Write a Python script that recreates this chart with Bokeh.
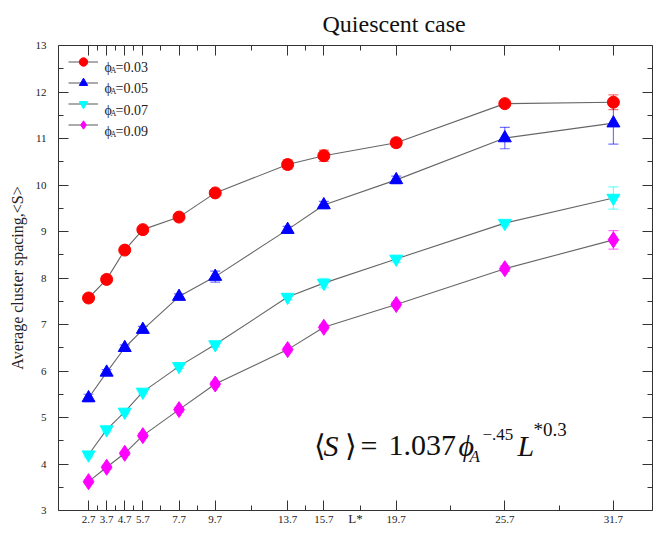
from bokeh.plotting import figure
from bokeh.models import (ColumnDataSource, Whisker, TeeHead, FixedTicker, LinearAxis,
                          Label, Legend, LegendItem, Range1d)
from bokeh.embed import file_html
from bokeh.resources import INLINE

# ---------------- data ----------------
L_star = [2.7, 3.7, 4.7, 5.7, 7.7, 9.7, 13.7, 15.7, 19.7, 25.7, 31.7]
x_minor = [3.2, 4.2, 5.2, 6.7, 8.7, 11.7, 14.7, 17.7, 22.7, 28.7]
y_ticks = [3, 4, 5, 6, 7, 8, 9, 10, 11, 12, 13]

phi_labels = ["=0.03", "=0.05", "=0.07", "=0.09"]

s_003 = [7.57, 7.97, 8.60, 9.04, 9.31, 9.83, 10.44, 10.63, 10.91, 11.75, 11.78]
e_003 = [0.05, 0.05, 0.05, 0.06, 0.07, 0.05, 0.10, 0.12, 0.09, 0.05, 0.16]
s_005 = [5.42, 5.97, 6.50, 6.89, 7.60, 8.03, 9.04, 9.57, 10.11, 11.01, 11.33]
e_005 = [0.08, 0.06, 0.06, 0.07, 0.06, 0.12, 0.07, 0.08, 0.08, 0.23, 0.45]
s_007 = [4.20, 4.74, 5.12, 5.55, 6.10, 6.57, 7.59, 7.89, 8.41, 9.18, 9.72]
e_007 = [0.05, 0.05, 0.05, 0.05, 0.05, 0.05, 0.06, 0.10, 0.07, 0.06, 0.24]
s_009 = [3.62, 3.93, 4.23, 4.61, 5.17, 5.72, 6.46, 6.94, 7.43, 8.20, 8.82]
e_009 = [0.04, 0.04, 0.04, 0.05, 0.05, 0.05, 0.05, 0.05, 0.05, 0.06, 0.20]

series = [
    (s_003, e_003, "circle", "#ff0000", 12),
    (s_005, e_005, "triangle", "#0000ff", 13),
    (s_007, e_007, "inverted_triangle", "#00ffff", 13),
    (s_009, e_009, "diamond", "#ff00ff", 16),
]

SERIF = "Liberation Serif"

p = figure(width=653, height=528, output_backend="svg", toolbar_location=None,
           x_range=Range1d(1.04, 33.86), y_range=Range1d(3, 13),
           min_border_left=58, min_border_right=1, min_border_top=45, min_border_bottom=18,
           x_axis_location=None, y_axis_location=None)
p.xgrid.visible = False
p.ygrid.visible = False
p.outline_line_color = None
p.background_fill_color = "white"
p.border_fill_color = "white"

def style_axis(ax, ticker, labels=True):
    ax.ticker = ticker
    ax.axis_line_color = "#333333"
    ax.major_tick_line_color = "#333333"
    ax.minor_tick_line_color = "#333333"
    ax.major_tick_in = 10
    ax.major_tick_out = 0
    ax.minor_tick_in = 5
    ax.minor_tick_out = 0
    ax.major_label_text_font = SERIF
    ax.major_label_text_font_size = "11px"
    ax.major_label_text_color = "#222222"
    if not labels:
        ax.major_label_text_font_size = "1px"
        ax.major_label_text_color = None
        ax.major_label_text_alpha = 0
        ax.major_label_standoff = 0

xt = FixedTicker(ticks=L_star, minor_ticks=x_minor)
yt = FixedTicker(ticks=y_ticks, minor_ticks=[v + 0.5 for v in y_ticks[:-1]])

xb = LinearAxis(axis_label="L*", axis_label_text_font=SERIF,
                axis_label_text_font_size="13px", axis_label_text_font_style="normal",
                axis_label_standoff=-15, axis_label_text_color="#222222")
style_axis(xb, xt)
xb.major_label_standoff = 5
p.add_layout(xb, "below")

yl = LinearAxis(axis_label="Average cluster spacing,<S>", axis_label_text_font=SERIF,
                axis_label_text_font_size="16px", axis_label_text_font_style="normal",
                axis_label_standoff=7, axis_label_text_color="#222222")
style_axis(yl, yt)
yl.major_label_standoff = 12
p.add_layout(yl, "left")

xtop = LinearAxis()
style_axis(xtop, xt, labels=False)
p.add_layout(xtop, "above")
yr = LinearAxis()
style_axis(yr, yt, labels=False)
p.add_layout(yr, "right")

p.title.text = "Quiescent case"
p.title.text_font = SERIF
p.title.text_font_size = "24px"
p.title.text_font_style = "normal"
p.title.align = "left"
p.title.offset = 264
p.title.standoff = 17
p.title.text_color = "#111111"

items = []
for ys, es, marker, color, size in series:
    src = ColumnDataSource(dict(x=L_star, y=ys,
                                upper=[a + b for a, b in zip(ys, es)],
                                lower=[a - b for a, b in zip(ys, es)]))
    ln = p.line("x", "y", source=src, line_color="#666666", line_width=1.1)
    w = Whisker(base="x", upper="upper", lower="lower", source=src,
                line_color=color, line_alpha=0.55, line_width=1.2,
                upper_head=TeeHead(size=10, line_color=color, line_alpha=0.55, line_width=1.2),
                lower_head=TeeHead(size=10, line_color=color, line_alpha=0.55, line_width=1.2))
    p.add_layout(w)
    sc = p.scatter("x", "y", source=src, marker=marker, size=size,
                   fill_color=color, line_color=color)
    items.append(LegendItem(label=" ", renderers=[ln, sc]))

legend = Legend(items=items, location=(10, 375), orientation="vertical",
                glyph_width=30, glyph_height=21, label_height=21, spacing=0,
                padding=0, margin=0, border_line_color=None,
                background_fill_alpha=0, label_text_font_size="1px",
                label_text_color=None, label_text_alpha=0, label_standoff=0)
p.add_layout(legend, "center")

# legend texts (frame-relative screen coordinates)
for i, txt in enumerate(phi_labels):
    base = 443 - i * 21.3
    p.add_layout(Label(x=46, y=base, x_units="screen", y_units="screen", text="ϕ",
                       text_font=SERIF, text_font_size="14px", text_baseline="alphabetic",
                       text_color="#222222"))
    p.add_layout(Label(x=52, y=base - 3, x_units="screen", y_units="screen", text="A",
                       text_font=SERIF, text_font_size="8px", text_baseline="alphabetic",
                       text_color="#222222"))
    p.add_layout(Label(x=57, y=base, x_units="screen", y_units="screen", text=txt,
                       text_font=SERIF, text_font_size="14px", text_baseline="alphabetic",
                       text_color="#222222"))

# formula
FML = SERIF
def flabel(x, y, t, size, style="normal"):
    p.add_layout(Label(x=x, y=y, x_units="screen", y_units="screen", text=t,
                       text_font=FML, text_font_size=size, text_font_style=style,
                       text_baseline="alphabetic", text_color="#111111"))

flabel(255, 65, "⟨", "30px")
flabel(265, 65, "S", "30px", "italic")
flabel(286, 65, "⟩", "30px")
flabel(302, 65, "=", "30px")
flabel(330, 65, "1.037", "30px")
flabel(400, 65, "ϕ", "30px", "italic")
flabel(411, 54, "A", "17px", "italic")
flabel(424, 76, "−.45", "17px")
flabel(459, 65, "L", "30px", "italic")
flabel(475, 81, "*0.3", "19px")

open("out.html", "w").write(file_html(p, INLINE))
